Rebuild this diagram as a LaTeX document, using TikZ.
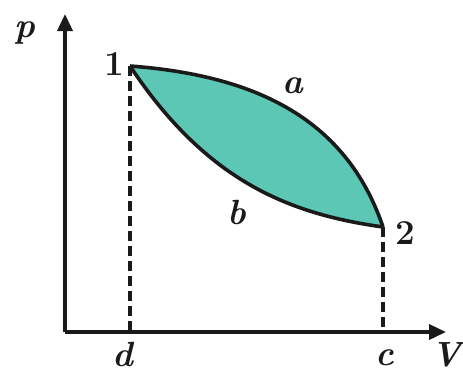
\documentclass[tikz,border=0pt]{standalone}
\usepackage{fontspec}
\usetikzlibrary{arrows.meta}
\definecolor{fillteal}{HTML}{5CC7B4}
\definecolor{ink}{HTML}{1A1A1A}
\begin{document}
\begin{tikzpicture}[x=1pt,y=-1pt,
  axisline/.style={line width=3.6pt,draw=ink,-{Triangle[length=17pt,width=15pt]}},
  curve/.style={line width=3.6pt,draw=ink,line join=round},
  guide/.style={line width=3.2pt,draw=ink,dash pattern=on 10pt off 5pt},
  lbl/.style={font=\fontsize{35}{38}\selectfont\bfseries\itshape,text=ink,inner sep=0pt},
  num/.style={font=\fontsize{35}{38}\selectfont\bfseries,text=ink,inner sep=0pt}]
\useasboundingbox (0,0) rectangle (463,372);
\coordinate (O) at (65,332);
\coordinate (Ytip) at (65,14);
\coordinate (Xtip) at (446,332);
\coordinate (P1) at (130,66);
\coordinate (P2) at (383,227);
\coordinate (D) at (130,332);
\coordinate (C) at (383,332);
% filled cycle
\fill[fillteal] (P1) .. controls (250,75) and (345,115) .. (P2)
  .. controls (290,214) and (207,182) .. (P1) -- cycle;
\draw[curve] (P1) .. controls (250,75) and (345,115) .. (P2);
\draw[curve] (P1) .. controls (207,182) and (290,214) .. (P2);
% guides
\draw[guide] (P1) -- (D);
\draw[guide] (P2) -- (C);
% axes
\draw[axisline] (O) -- (Ytip);
\draw[axisline] (O) -- (Xtip);
% labels
\node[lbl] (lp) at (25,33) {p};
\node[lbl] (lV) at (447,355) {V};
\node[lbl] (ld) at (123,354) {d};
\node[lbl] (lc) at (385,358) {c};
\node[num] (l1) at (114,64) {1};
\node[num] (l2) at (405,233) {2};
\node[lbl] (la) at (293,86) {a};
\node[lbl] (lb) at (237,212) {b};
\end{tikzpicture}
\end{document}
